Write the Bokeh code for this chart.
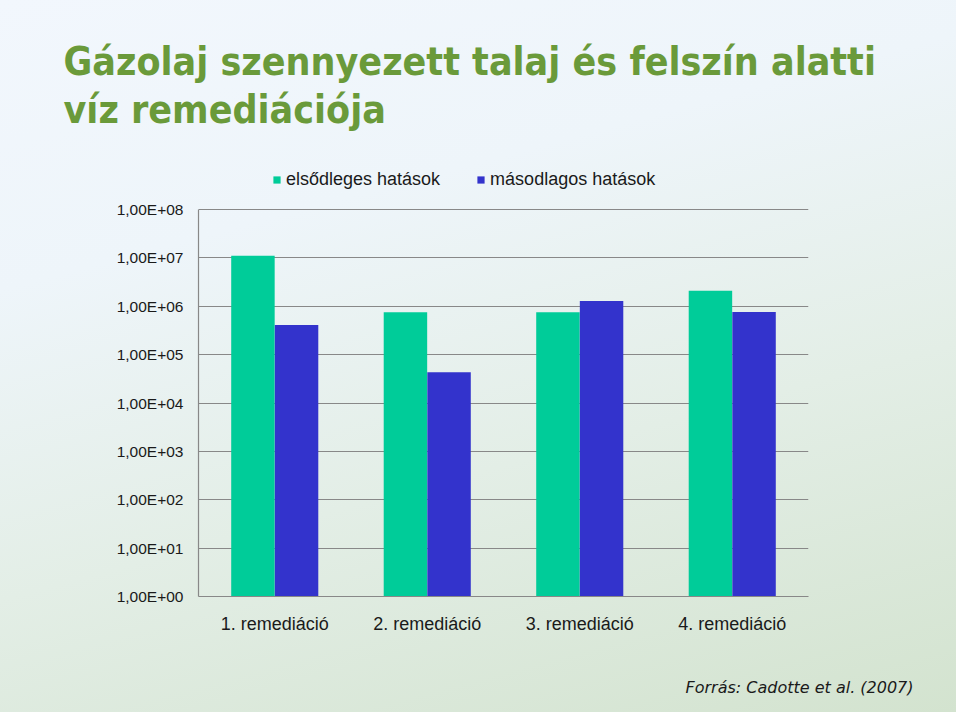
from bokeh.plotting import figure
from bokeh.models import (FactorRange, Range1d, FixedTicker, Legend, LegendItem,
                          Title, ColumnDataSource)
from bokeh.transform import dodge
from bokeh.embed import file_html
from bokeh.resources import INLINE

# ---- data ----
categories = ["1. remediáció", "2. remediáció", "3. remediáció", "4. remediáció"]
elsodleges = [1.1e7, 7.5e5, 7.5e5, 2.1e6]
masodlagos = [4.1e5, 4.3e4, 1.29e6, 7.6e5]
series_names = ["elsődleges hatások", "másodlagos hatások"]
y_ticks = [1, 10, 100, 1000, 1e4, 1e5, 1e6, 1e7, 1e8]
y_tick_labels = ["1,00E+00", "1,00E+01", "1,00E+02", "1,00E+03", "1,00E+04",
                 "1,00E+05", "1,00E+06", "1,00E+07", "1,00E+08"]
title_lines = ["Gázolaj szennyezett talaj és felszín alatti", "víz remediációja"]
source_text = "Forrás: Cadotte et al. (2007)"

GREEN = "#00CC99"
BLUE = "#3333CC"
TITLE_GREEN = "#6A9A3A"
GRID = "#888888"
TEXT = "#1a1a1a"

src = ColumnDataSource(dict(cat=categories, a=elsodleges, b=masodlagos,
                            base=[1] * len(categories)))

# y range reaches a little above the top tick so the legend sits inside the frame
p = figure(width=956, height=712, output_backend="svg", toolbar_location=None,
           x_range=FactorRange(*categories, range_padding=0),
           y_range=Range1d(1, 10 ** 8.9096), y_axis_type="log",
           min_border=0, min_border_left=198, min_border_right=148,
           min_border_top=165, min_border_bottom=116)

p.styles = {"background": "linear-gradient(165deg, #F2F7FD 0%, #EEF5FA 30%, #E3EEE6 62%, #D3E3CF 100%)"}
p.border_fill_alpha = 0
p.background_fill_alpha = 0
p.outline_line_color = None

r1 = p.vbar(x=dodge("cat", -0.143, range=p.x_range), top="a", bottom="base",
            width=0.285, source=src, fill_color=GREEN, line_color=None)
r2 = p.vbar(x=dodge("cat", 0.143, range=p.x_range), top="b", bottom="base",
            width=0.285, source=src, fill_color=BLUE, line_color=None)

# axes
yax = p.yaxis[0]
yax.ticker = FixedTicker(ticks=y_ticks, minor_ticks=[])
yax.bounds = (1, 1e8)
yax.major_label_overrides = {t: l for t, l in zip(y_ticks, y_tick_labels)}
yax.major_label_text_font = "Liberation Sans"
yax.major_label_text_font_size = "15.5px"
yax.major_label_text_color = TEXT
yax.major_tick_line_color = None
yax.minor_tick_line_color = None
yax.axis_line_color = GRID
yax.axis_line_width = 1.2
yax.major_label_standoff = 9

xax = p.xaxis[0]
xax.major_label_text_font = "Liberation Sans"
xax.major_label_text_font_size = "18px"
xax.major_label_text_color = TEXT
xax.major_tick_line_color = None
xax.minor_tick_line_color = None
xax.axis_line_color = GRID
xax.axis_line_width = 1.2
xax.major_label_standoff = 11

p.xgrid.grid_line_color = None
p.ygrid.ticker = FixedTicker(ticks=y_ticks, minor_ticks=[])
p.ygrid.grid_line_color = GRID
p.ygrid.grid_line_width = 1.2

# legend (inside the top strip of the frame)
legend = Legend(items=[LegendItem(label=series_names[0], renderers=[r1]),
                       LegendItem(label=series_names[1], renderers=[r2])],
                orientation="horizontal", location=(74, 406),
                padding=0, margin=0, spacing=36, label_standoff=5,
                glyph_width=9, glyph_height=9, label_height=20,
                label_text_font="Liberation Sans", label_text_font_size="18px",
                label_text_color=TEXT,
                background_fill_alpha=0, border_line_color=None)
p.add_layout(legend, "center")

# title (two lines)
p.add_layout(Title(text="\n".join(title_lines),
                   text_font="DejaVu Sans Condensed",
                   text_font_size="39px", text_font_style="bold",
                   text_color=TITLE_GREEN, text_line_height=1.05,
                   offset=-135, standoff=68), "above")

# source note (below the x axis); leading blank lines push it down
p.add_layout(Title(text="\n\n" + source_text, text_font="DejaVu Sans",
                   text_font_size="16px", text_font_style="italic",
                   text_color=TEXT, align="right", offset=-105,
                   text_line_height=0.92, standoff=10), "below")

open("out.html", "w").write(file_html(p, INLINE))
